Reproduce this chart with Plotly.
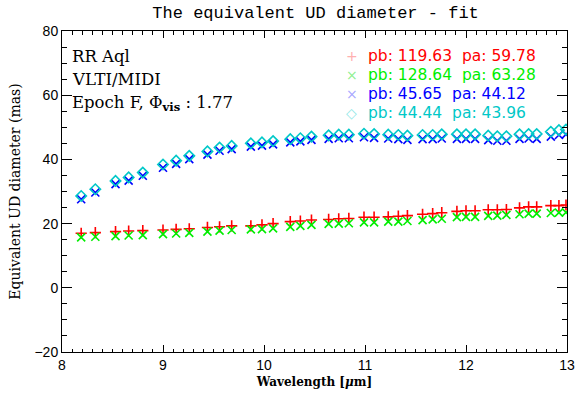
import plotly.graph_objects as go

# Wavelength grid (micron)
wavelength = [8.19, 8.33, 8.53, 8.66, 8.80, 9.00, 9.13, 9.26, 9.44, 9.56,
              9.68, 9.87, 9.98, 10.09, 10.26, 10.36, 10.47, 10.64, 10.74, 10.84,
              10.99, 11.09, 11.23, 11.33, 11.42, 11.57, 11.67, 11.76, 11.91, 12.00,
              12.09, 12.22, 12.31, 12.40, 12.53, 12.62, 12.70, 12.84, 12.92, 12.99]

# Equivalent UD diameters (mas) for the four baselines
ud_red = [17.0, 17.2, 17.5, 17.7, 17.8, 18.0, 18.2, 18.4, 18.8, 19.0,
          19.3, 19.3, 19.6, 20.0, 20.6, 20.8, 21.1, 21.3, 21.5, 21.6,
          22.0, 22.0, 22.1, 22.3, 22.5, 22.9, 23.1, 23.4, 23.8, 24.0,
          24.0, 24.3, 24.3, 24.4, 24.9, 25.2, 25.2, 25.6, 25.6, 25.8]
ud_green = [15.7, 15.9, 16.1, 16.3, 16.4, 16.7, 16.9, 17.1, 17.5, 17.8,
            18.0, 18.2, 18.3, 18.5, 19.0, 19.3, 19.6, 19.9, 20.0, 20.1,
            20.4, 20.4, 20.6, 20.6, 20.8, 21.1, 21.3, 21.5, 22.0, 22.1,
            22.1, 22.4, 22.5, 22.7, 22.9, 23.1, 23.1, 23.3, 23.4, 23.5]
ud_blue = [27.6, 29.7, 32.3, 33.4, 34.9, 37.4, 38.6, 40.1, 41.5, 42.7,
           43.2, 44.0, 44.3, 44.7, 45.3, 45.6, 46.1, 46.4, 46.6, 46.6,
           46.9, 46.7, 46.5, 46.3, 46.1, 46.3, 46.3, 46.5, 46.4, 46.4,
           46.4, 46.0, 45.8, 45.8, 46.4, 46.5, 46.4, 47.1, 47.6, 47.8]
ud_cyan = [28.6, 30.7, 33.3, 34.4, 35.9, 38.4, 39.6, 41.1, 42.5, 43.7,
           44.2, 45.0, 45.3, 45.7, 46.3, 46.6, 47.1, 47.5, 47.7, 47.7,
           48.0, 47.9, 47.7, 47.6, 47.4, 47.6, 47.6, 47.8, 47.8, 47.8,
           47.8, 47.4, 47.2, 47.2, 47.8, 47.9, 47.9, 48.6, 49.1, 49.3]

labels = ["pb: 119.63  pa: 59.78", "pb: 128.64  pa: 63.28",
          "pb: 45.65  pa: 44.12", "pb: 44.44  pa: 43.96"]
colors = ["#ff0000", "#00ee00", "#0000ff", "#00c8c8"]
light = ["#ffb0b0", "#90f090", "#a8a8ff", "#90e8e8"]
symbols = ["cross-thin-open", "x-thin-open", "x-thin-open", "diamond-open"]
key_glyphs = ["+", "×", "×", "◇"]
series = [ud_red, ud_green, ud_blue, ud_cyan]

fig = go.Figure()
for ys, col, sym in zip(series, colors, symbols):
    fig.add_trace(go.Scatter(
        x=wavelength, y=ys, mode="markers", showlegend=False,
        marker=dict(symbol=sym, size=8, color=col,
                    line=dict(color=col, width=1.6)),
    ))

# key: light symbol followed by the coloured baseline label
for i, (lab, col, lc, g) in enumerate(zip(labels, colors, light, key_glyphs)):
    yk = 0.921 - i * 0.0585
    fig.add_annotation(xref="paper", yref="paper", x=0.574, y=yk,
                       xanchor="center", yanchor="middle", showarrow=False,
                       text=g, font=dict(family="DejaVu Sans", size=14, color=lc))
    fig.add_annotation(xref="paper", yref="paper", x=0.602, y=yk,
                       xanchor="left", yanchor="middle", showarrow=False,
                       text=lab.replace("  ", "&nbsp; "),
                       font=dict(family="DejaVu Sans", size=15.5, color=col))

serif = "DejaVu Serif"
notes = ["RR Aql", "VLTI/MIDI", "Epoch F, Φ<sub><b>vis</b></sub> : 1.77"]
for i, t in enumerate(notes):
    fig.add_annotation(xref="paper", yref="paper", x=0.016, y=0.922 - i * 0.074,
                       xanchor="left", yanchor="middle", showarrow=False,
                       text=t, font=dict(family=serif, size=16.5, color="black"))

axis_common = dict(showgrid=False, zeroline=False, showline=True, mirror="allticks",
                   linecolor="black", linewidth=1, ticks="inside", tickcolor="black",
                   tickfont=dict(family="Liberation Sans", size=14, color="black"))

fig.update_xaxes(range=[8, 13], dtick=1, tick0=8, ticklen=7,
                 minor=dict(dtick=0.1, ticks="inside", ticklen=3.5, tickcolor="black"),
                 title=dict(text="<b>Wavelength [<i>μ</i>m]</b>", standoff=5,
                            font=dict(family=serif, size=12, color="black")),
                 **axis_common)
fig.update_yaxes(range=[-20, 80], dtick=20, tick0=0, ticklen=10,
                 minor=dict(dtick=5, ticks="inside", ticklen=5, tickcolor="black"),
                 title=dict(text="Equivalent UD diameter (mas)", standoff=10,
                            font=dict(family=serif, size=14, color="black")),
                 **axis_common)

fig.update_layout(
    width=579, height=395,
    margin=dict(l=62, r=12, t=31, b=43, autoexpand=False),
    paper_bgcolor="white", plot_bgcolor="white",
    title=dict(text="The equivalent UD diameter - fit", x=0.545, xanchor="center",
               y=0.97, yanchor="middle",
               font=dict(family="Liberation Mono", size=17, color="black")),
    showlegend=False,
)

fig.write_html("out.html")
